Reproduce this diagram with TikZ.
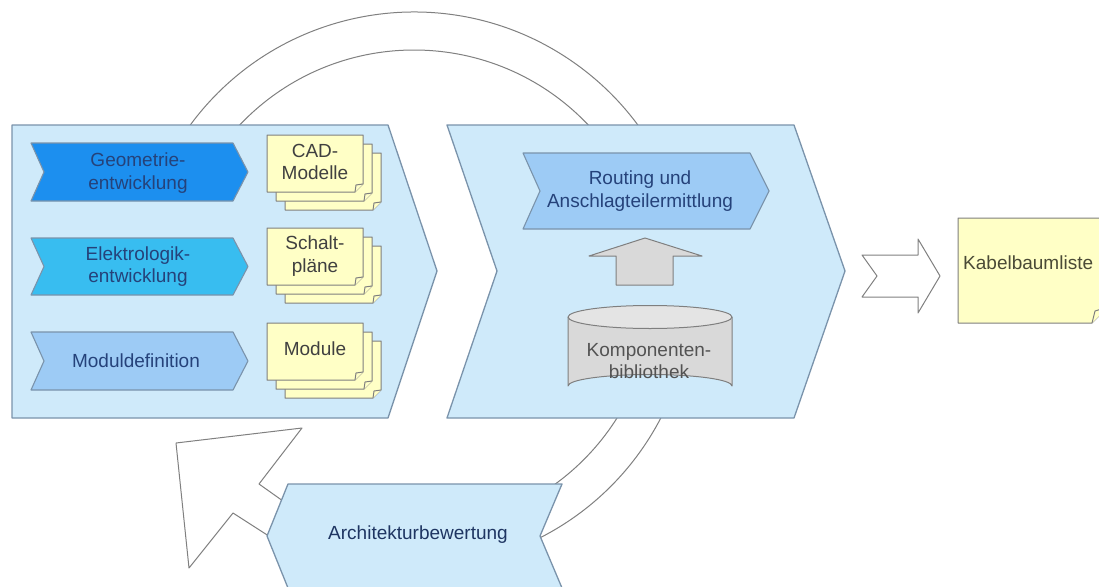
\documentclass[tikz,border=0pt]{standalone}
\usepackage{fontspec}
\setmainfont{Liberation Sans}
\definecolor{panelc}{HTML}{CFEAFA}
\definecolor{borderc}{HTML}{7A93AB}
\definecolor{geoc}{HTML}{1C8FEF}
\definecolor{elekc}{HTML}{38BDF0}
\definecolor{modc}{HTML}{9DCBF5}
\definecolor{docfill}{HTML}{FFFFC6}
\definecolor{docborder}{HTML}{7F7F7F}
\definecolor{grayfill}{HTML}{D9D9D9}
\definecolor{graytop}{HTML}{E4E4E4}
\definecolor{navyc}{HTML}{25427A}
\definecolor{darktext}{HTML}{404040}
\definecolor{olivetext}{HTML}{4A4A36}
\definecolor{ringc}{HTML}{808080}
\newcommand\mydoc[4]{%
  \draw[docst] (#1,#2) -- ++(#3,0) -- ++(0,#4-8) -- ++(-8,8) -- ++(-#3+8,0) -- cycle;
  \draw[docst] (#1+#3-8,#2+#4) -- ++(1,-7) -- ++(7,-1);}
\begin{document}
\begin{tikzpicture}[x=1pt,y=-1pt,line join=round,
  panel/.style={fill=panelc,draw=borderc,line width=1.3pt},
  chev/.style={draw=borderc,line width=1.1pt},
  docst/.style={fill=docfill,draw=docborder,line width=1pt},
  grayst/.style={fill=grayfill,draw=docborder,line width=1pt},
  ringline/.style={draw=ringc,line width=1pt},
  lbl/.style={font=\fontsize{19}{22.5}\selectfont,align=center,inner sep=0pt},
  navytext/.style={lbl,text=navyc},
  doctext/.style={lbl,text=darktext}]
\clip (0,0) rectangle (1099,586);
\fill[white] (0,0) rectangle (1099,586);
% circular feedback band
\draw[ringline] (414,290) ++(-145:278) arc[start angle=-145,end angle=65,radius=278];
\draw[ringline] (414,290) ++(-137:240) arc[start angle=-137,end angle=56,radius=240];
\draw[ringline,fill=white] (290,506) -- (259,484) -- (302,428) -- (176,443) -- (189,568) -- (233,513) -- (275,540);
% left panel
\draw[panel] (12,125) -- (388,125) -- (437,271) -- (388,418) -- (12,418) -- cycle;
% middle panel
\draw[panel] (447,125) -- (794,125) -- (845,271) -- (794,418) -- (447,418) -- (497,271) -- cycle;
% bottom chevron
\draw[panel] (288,484) -- (562,484) -- (540,536) -- (562,588) -- (288,588) -- (267,536) -- cycle;
\node[lbl,text=navyc!80!black] (arch) at (418,535) {Architekturbewertung};
% inner chevrons
\draw[chev,fill=geoc] (31,143) -- (233,143) -- (248,172) -- (233,201) -- (31,201) -- (44,172) -- cycle;
\node[navytext] (geo) at (138,173) {Geometrie-\\entwicklung};
\draw[chev,fill=elekc] (31,238) -- (233,238) -- (248,266.5) -- (233,295) -- (31,295) -- (44,266.5) -- cycle;
\node[navytext] (elek) at (138,266.5) {Elektrologik-\\entwicklung};
\draw[chev,fill=modc] (31,332) -- (233,332) -- (248,361) -- (233,390) -- (31,390) -- (44,361) -- cycle;
\node[navytext] (mod) at (136,361) {Moduldefinition};
% document stacks
\mydoc{285}{153}{96}{57}\mydoc{276}{144}{96}{57}\mydoc{267}{135}{96}{57}
\node[doctext] (cad) at (315,162) {CAD-\\Modelle};
\mydoc{285}{246}{96}{57}\mydoc{276}{237}{96}{57}\mydoc{267}{228}{96}{57}
\node[doctext] (schalt) at (315,256) {Schalt-\\pläne};
\mydoc{285}{341}{96}{57}\mydoc{276}{332}{96}{57}\mydoc{267}{323}{96}{57}
\node[doctext] (module) at (315,349) {Module};
% routing chevron
\draw[chev,fill=modc] (523,153) -- (750,153) -- (769,191) -- (750,229) -- (523,229) -- (540,191) -- cycle;
\node[navytext] (routing) at (640,191) {Routing und\\Anschlagteilermittlung};
% up arrow
\draw[grayst] (616,285) -- (616,256) -- (589,256) -- (645,238) -- (702,256) -- (673,256) -- (673,285) -- cycle;
% cylinder
\draw[grayst] (568,317) -- (568,386) arc[start angle=180,end angle=360,x radius=82,y radius=11.5] -- (732,317);
\draw[grayst,fill=graytop] (650,317) ellipse[x radius=82,y radius=11.5];
\node[doctext,text=darktext!90] (komp) at (649,361) {Komponenten-\\bibliothek};
% output arrow
\draw[ringline,fill=white] (862,255) -- (918,255) -- (918,239) -- (940,276) -- (918,313) -- (918,297) -- (862,297) -- (877,276) -- cycle;
% Kabelbaumliste
\draw[docst] (958,218) -- (1108,218) -- (1108,307) -- (1092,323) -- (958,323) -- cycle;
\draw[docst] (1092,323) -- (1095,311) -- (1108,307);
\node[lbl,text=olivetext,anchor=west] (kabel) at (963,263) {Kabelbaumliste};
\end{tikzpicture}
\end{document}
